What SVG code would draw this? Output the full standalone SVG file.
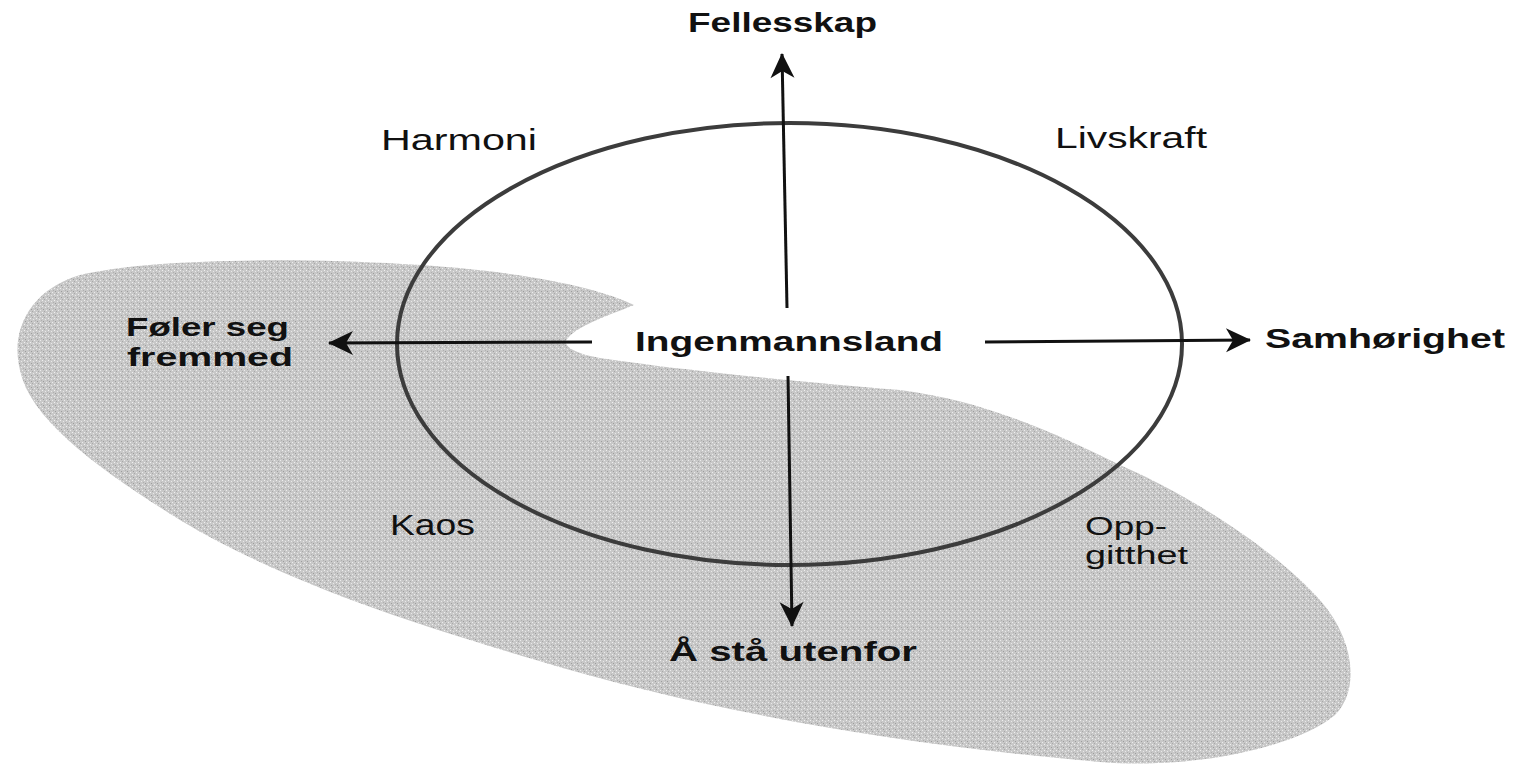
<svg xmlns="http://www.w3.org/2000/svg" width="1517" height="765" viewBox="0 0 1517 765">
  <style>
    .lb { font-family: "Liberation Sans", Arial, sans-serif; font-weight: 700; font-size: 28px; fill: #111; }
    .lr { font-family: "Liberation Sans", Arial, sans-serif; font-weight: 400; font-size: 29px; fill: #111; }
    .two { font-size: 26px; }
    .conn { stroke: #111; stroke-width: 3; fill: none; marker-end: url(#arrow); }
  </style>
  <defs>
    <pattern id="stipple" width="6" height="6" patternUnits="userSpaceOnUse">
      <rect width="6" height="6" fill="#c8c8c8"/>
      <rect x="0" y="0" width="1" height="1" fill="#f0f0f0"/>
      <rect x="3" y="1" width="1" height="1" fill="#e8e8e8"/>
      <rect x="1" y="3" width="1" height="1" fill="#9c9c9c"/>
      <rect x="4" y="4" width="1" height="1" fill="#ececec"/>
      <rect x="2" y="5" width="1" height="1" fill="#a8a8a8"/>
      <rect x="5" y="2" width="1" height="1" fill="#b0b0b0"/>
    </pattern>
    <marker id="arrow" viewBox="-26 -13 28 26" refX="0" refY="0" markerWidth="28" markerHeight="26" markerUnits="userSpaceOnUse" orient="auto">
      <path d="M1,0 L-24,-12 L-17,0 L-24,12 Z" fill="#111"/>
    </marker>
  </defs>

  <rect width="1517" height="765" fill="#ffffff"/>

  <g id="shadow-area">
    <path d="M634,305 C600,288 520,270 402,264 C300,258 150,258 80,275 C30,290 10,330 20,370 C30,420 100,470 180,520 C280,580 400,620 536,660 C700,710 900,745 1100,762 C1200,770 1300,745 1335,715 C1360,690 1355,640 1320,600 C1280,555 1200,500 1120,465 C1050,430 980,400 900,390 C800,382 680,370 600,358 C575,354 560,345 568,338 C578,325 615,313 634,305 Z" fill="url(#stipple)"/>
  </g>

  <g id="circle">
    <ellipse cx="789.5" cy="344" rx="392.5" ry="221" fill="none" stroke="#3c3c3c" stroke-width="4"/>
  </g>

  <g id="connectors">
    <line class="conn" x1="787" y1="308" x2="782" y2="54"/>
    <line class="conn" x1="788" y1="376" x2="792" y2="626"/>
    <line class="conn" x1="592" y1="342" x2="329" y2="343"/>
    <line class="conn" x1="985" y1="342" x2="1250" y2="340"/>
  </g>

  <g id="node-fellesskap"><text class="lb" x="688" y="32" textLength="189" lengthAdjust="spacingAndGlyphs">Fellesskap</text></g>
  <g id="node-harmoni"><text class="lr" x="381" y="150" textLength="156" lengthAdjust="spacingAndGlyphs">Harmoni</text></g>
  <g id="node-livskraft"><text class="lr" x="1055" y="148" textLength="152" lengthAdjust="spacingAndGlyphs">Livskraft</text></g>
  <g id="node-foler">
    <text class="lb two" x="126" y="336" textLength="163" lengthAdjust="spacingAndGlyphs">Føler seg</text>
    <text class="lb two" x="127" y="366" textLength="166" lengthAdjust="spacingAndGlyphs">fremmed</text>
  </g>
  <g id="node-ingenmannsland"><text class="lb" x="635" y="351" textLength="308" lengthAdjust="spacingAndGlyphs">Ingenmannsland</text></g>
  <g id="node-samhorighet"><text class="lb" x="1265" y="348" textLength="240" lengthAdjust="spacingAndGlyphs">Samhørighet</text></g>
  <g id="node-kaos"><text class="lr" x="390" y="535" textLength="85" lengthAdjust="spacingAndGlyphs">Kaos</text></g>
  <g id="node-oppgitthet">
    <text class="lr two" x="1085" y="535" textLength="82" lengthAdjust="spacingAndGlyphs">Opp-</text>
    <text class="lr two" x="1085" y="564" textLength="103" lengthAdjust="spacingAndGlyphs">gitthet</text>
  </g>
  <g id="node-utenfor"><text class="lb" x="669" y="661" textLength="248" lengthAdjust="spacingAndGlyphs">Å stå utenfor</text></g>
</svg>
